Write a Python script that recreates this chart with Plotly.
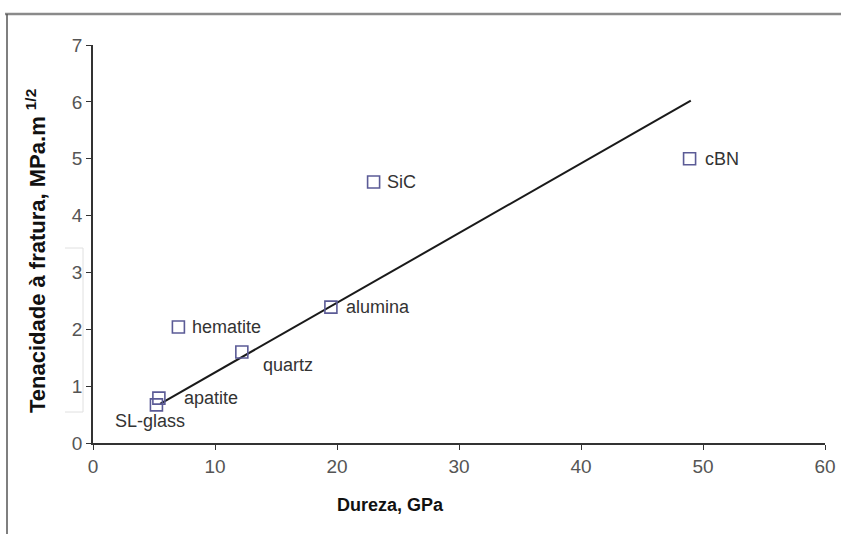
import plotly.graph_objects as go

# Hardness vs fracture toughness of hard materials
materials = ["SL-glass", "apatite", "hematite", "quartz", "alumina", "SiC", "cBN"]
hardness_gpa = [5.2, 5.4, 7.0, 12.2, 19.5, 23.0, 48.9]
toughness = [0.67, 0.79, 2.04, 1.6, 2.39, 4.59, 5.0]

# Linear trend line endpoints
trend_x = [5.5, 49.0]
trend_y = [0.69, 6.02]

x_ticks = [0, 10, 20, 30, 40, 50, 60]
y_ticks = [0, 1, 2, 3, 4, 5, 6, 7]

# label placement offsets (pixels) per material
label_dx = [-43, 23, 12, 19, 13, 11, 13]
label_dy = [-16, 0, 0, -13, 0, 0, 0]

W, H = 841, 534
L, R, T, B = 93, 16, 45, 91
pw, ph = W - L - R, H - T - B


def px(xp):
    return (xp - L) / pw


def py(yp):
    return (H - B - yp) / ph


fig = go.Figure()

fig.add_trace(go.Scatter(
    x=trend_x, y=trend_y, mode="lines",
    line=dict(color="#1a1a1a", width=2),
    hoverinfo="skip", showlegend=False,
))

fig.add_trace(go.Scatter(
    x=hardness_gpa, y=toughness, mode="markers",
    marker=dict(symbol="square-open", size=12, color="#5b5b96",
                line=dict(width=1.6, color="#5b5b96")),
    showlegend=False,
))

annotations = []
for name, xv, yv, dx, dy in zip(materials, hardness_gpa, toughness, label_dx, label_dy):
    annotations.append(dict(
        x=xv, y=yv, xref="x", yref="y", text=name, showarrow=False,
        xanchor="left", yanchor="middle", xshift=dx, yshift=dy,
        font=dict(family="Arial, Liberation Sans", size=18, color="#333333"),
    ))

annotations.append(dict(
    x=px(20), y=py(251), xref="paper", yref="paper",
    text="<b>Tenacidade à fratura, MPa.m <sup>1/2</sup></b>",
    textangle=-90, showarrow=False,
    font=dict(family="Arial, Liberation Sans", size=22, color="#111111"),
))
annotations.append(dict(
    x=px(390), y=py(517), xref="paper", yref="paper",
    text="<b>Dureza, GPa</b>", showarrow=False,
    font=dict(family="Arial, Liberation Sans", size=18, color="#111111"),
))

shapes = [
    # page frame: top and left rules
    dict(type="line", xref="paper", yref="paper",
         x0=px(5), x1=px(841), y0=py(14), y1=py(14),
         line=dict(color="#8a8a8a", width=2.5)),
    dict(type="line", xref="paper", yref="paper",
         x0=px(7), x1=px(7), y0=py(14), y1=py(534),
         line=dict(color="#555555", width=1.5)),
    # faint bracket left of the y axis
    dict(type="path", xref="paper", yref="paper",
         path=f"M {px(65)} {py(248)} L {px(83)} {py(248)} L {px(83)} {py(412)} L {px(65)} {py(412)}",
         line=dict(color="#e0e0e0", width=1)),
]

axis_font = dict(family="Arial, Liberation Sans", size=19, color="#555555")

fig.update_layout(
    width=W, height=H,
    margin=dict(l=L, r=R, t=T, b=B, autoexpand=False),
    paper_bgcolor="white", plot_bgcolor="white",
    xaxis=dict(range=[0, 60], tickvals=x_ticks, showgrid=False, zeroline=False,
               showline=True, linecolor="#333333", linewidth=1.5,
               ticks="outside", ticklen=5, tickcolor="#333333",
               tickfont=axis_font, fixedrange=True, automargin=False),
    yaxis=dict(range=[0, 7], tickvals=y_ticks, showgrid=False, zeroline=False,
               showline=True, linecolor="#333333", linewidth=1.5,
               ticks="outside", ticklen=5, tickcolor="#333333",
               tickfont=axis_font, fixedrange=True, automargin=False),
    annotations=annotations,
    shapes=shapes,
)

fig.write_html("out.html")
